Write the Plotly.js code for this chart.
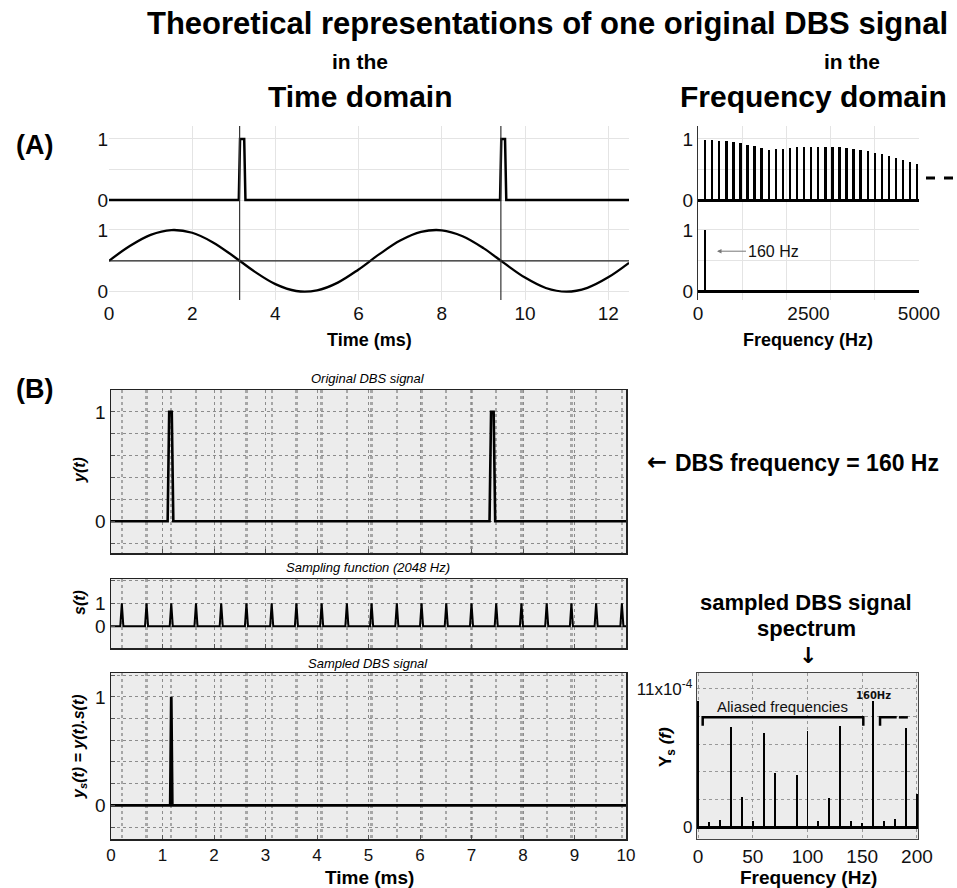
<!DOCTYPE html>
<html>
<head>
<meta charset="utf-8">
<script src="https://cdn.plot.ly/plotly-3.0.1.min.js"></script>
<style>
  html, body { margin: 0; padding: 0; background: #ffffff; }
  #chart { width: 957px; height: 888px; }
</style>
</head>
<body>
<div id="chart"></div>
<script>
// ---------- (A) time domain ----------
// DBS pulse train (two pulses, 160 Hz period)
const pulseTimeA  = [0, 3.12, 3.15, 3.25, 3.28, 9.40, 9.43, 9.52, 9.55, 12.5];
const pulseLevelA = [0, 0, 1, 1, 0, 0, 1, 1, 0, 0];
// equivalent sinusoid at the same frequency
const sineTime  = [0, 0.5, 1, 1.5, 2, 2.5, 3, 3.5, 4, 4.5, 5, 5.5, 6, 6.5, 7, 7.5, 8, 8.5, 9, 9.5, 10, 10.5, 11, 11.5, 12, 12.5];
const sineLevel = [0.5, 0.74, 0.921, 0.999, 0.955, 0.799, 0.571, 0.325, 0.122, 0.011, 0.021, 0.147, 0.36, 0.608, 0.828, 0.969, 0.995, 0.899, 0.706, 0.462, 0.228, 0.06, 0.0, 0.063, 0.232, 0.467];
const meanTime  = [0, 12.5];
const meanLevel = [0.5, 0.5];
const pulseOnsets = [3.14, 9.42];

// ---------- (A) frequency domain ----------
const harmonicHz = [160, 320, 480, 640, 800, 960, 1120, 1280, 1440, 1600, 1760, 1920, 2080, 2240, 2400, 2560,
                    2720, 2880, 3040, 3200, 3360, 3520, 3680, 3840, 4000, 4160, 4320, 4480, 4640, 4800, 4960];
const harmonicAmp = [0.99, 0.98, 0.97, 0.96, 0.95, 0.93, 0.90, 0.88, 0.85, 0.82, 0.83, 0.84, 0.86, 0.865, 0.875, 0.875,
                     0.875, 0.875, 0.87, 0.865, 0.855, 0.84, 0.82, 0.80, 0.77, 0.75, 0.72, 0.69, 0.655, 0.62, 0.595];
const sineLineHz  = [160];
const sineLineAmp = [1];

// ---------- (B) sampling ----------
const origTime  = [0, 1.10, 1.13, 1.18, 1.21, 7.35, 7.38, 7.43, 7.46, 10];
const origLevel = [0, 0, 1, 1, 0, 0, 1, 1, 0, 0];
const sampleTimes = [0.21, 0.69, 1.17, 1.65, 2.14, 2.63, 3.12, 3.60, 4.09, 4.58, 5.06,
                     5.55, 6.03, 6.51, 7.00, 7.48, 7.97, 8.46, 8.94, 9.42, 9.92];
const sampledTime  = [0, 1.15, 1.17, 1.19, 10];
const sampledLevel = [0, 0, 1, 0, 0];

// spectrum of the sampled signal (0-200 Hz)
const specHz  = [0, 10, 20, 30, 40, 50, 60, 70, 90, 100, 110, 120, 130, 140, 150, 160, 170, 180, 190, 200];
const specAmp = [10.05e-4, 0.45e-4, 0.58e-4, 7.96e-4, 2.44e-4, 0.53e-4, 7.48e-4, 4.30e-4, 4.16e-4, 7.61e-4,
                 0.53e-4, 2.31e-4, 8.06e-4, 0.53e-4, 0.34e-4, 10.05e-4, 0.53e-4, 0.64e-4, 7.88e-4, 2.65e-4];
const specTickVals = [0, 11e-4];
const specTickText = ['0', '11x10<sup>-4</sup>'];

// ---------- helpers ----------
const W = 957, H = 888;
const PX = p => p / W;
const PY = p => 1 - p / H;
const FONT = 'Liberation Sans, Arial, Helvetica, sans-serif';
const ARROW_FONT = 'DejaVu Sans, sans-serif';

// narrow spikes of the sampling comb
const spikeX = [0], spikeY = [0];
sampleTimes.forEach(t => { spikeX.push(t - 0.03, t, t + 0.03); spikeY.push(0, 1, 0); });
spikeX.push(10); spikeY.push(0);

const black = '#000000';
const traces = [
  { x: pulseTimeA, y: pulseLevelA, xaxis: 'x2', yaxis: 'y2', mode: 'lines', line: { color: black, width: 2.5 } },
  { x: sineTime, y: sineLevel, xaxis: 'x', yaxis: 'y', mode: 'lines', line: { color: black, width: 2.3, shape: 'spline' } },
  { x: meanTime, y: meanLevel, xaxis: 'x', yaxis: 'y', mode: 'lines', line: { color: '#222', width: 1.3 } },
  { type: 'bar', x: harmonicHz, y: harmonicAmp, width: 55, xaxis: 'x4', yaxis: 'y4', marker: { color: black } },
  { type: 'bar', x: sineLineHz, y: sineLineAmp, width: 55, xaxis: 'x3', yaxis: 'y3', marker: { color: black } },
  { x: origTime, y: origLevel, xaxis: 'x5', yaxis: 'y5', mode: 'lines', line: { color: black, width: 2.6 } },
  { x: spikeX, y: spikeY, xaxis: 'x6', yaxis: 'y6', mode: 'lines', line: { color: black, width: 2 } },
  { x: sampledTime, y: sampledLevel, xaxis: 'x7', yaxis: 'y7', mode: 'lines', line: { color: black, width: 2.8 } },
  { type: 'bar', x: specHz, y: specAmp, width: 1.8, xaxis: 'x8', yaxis: 'y8', marker: { color: black } }
];

// ---- axis styles ----
const lightGrid = '#e4e4e4';
const dotGrid = '#8c8c8c';
const aTimeX = {
  range: [0, 12.5], tickvals: [0, 2, 4, 6, 8, 10, 12], showgrid: true, gridcolor: lightGrid,
  zeroline: false, showline: false, ticks: '', tickfont: { size: 19, color: '#111' }
};
const aFreqX = {
  range: [0, 5000], tickvals: [0, 2500, 5000], showgrid: false, zeroline: false, showline: false,
  minor: { tickmode: 'linear', tick0: 0, dtick: 1000, showgrid: true, gridcolor: lightGrid, ticks: '' },
  ticks: '', tickfont: { size: 19, color: '#111' }
};
const aY = (dom, rng, line) => ({
  domain: dom, range: rng, tickvals: [0, 1],
  showgrid: true, gridcolor: lightGrid, ticks: '', tickfont: { size: 19, color: '#111' },
  minor: { tickmode: 'linear', tick0: 0, dtick: 0.5, showgrid: true, gridcolor: lightGrid, ticks: '' },
  zeroline: !!line, zerolinecolor: black, zerolinewidth: 3,
  showline: !!line, linecolor: '#333', linewidth: 1
});
const bX = (labels) => ({
  domain: [PX(111), PX(626)], range: [0, 10], tickvals: [0, 1, 2, 3, 4, 5, 6, 7, 8, 9, 10],
  showticklabels: labels, tickfont: { size: 17, color: '#111' },
  showgrid: true, gridcolor: dotGrid, griddash: 'dot', gridwidth: 1,
  minor: { tickmode: 'array', tickvals: sampleTimes, showgrid: true, gridcolor: '#a6a6a6', gridwidth: 2.3, ticks: '' },
  showline: true, mirror: true, linecolor: '#222', linewidth: 1.5,
  ticks: 'inside', ticklen: 4, tickcolor: '#555', zeroline: false
});
const bY = (dom, rng, vals, step) => ({
  domain: dom, range: rng, tickvals: vals,
  showgrid: true, gridcolor: dotGrid, griddash: 'dot', gridwidth: 1,
  minor: { tickmode: 'linear', tick0: 0, dtick: step, showgrid: true, gridcolor: dotGrid, griddash: 'dot',
           gridwidth: 1, ticks: 'inside', ticklen: 4, tickcolor: '#555' },
  showline: true, mirror: true, linecolor: '#222', linewidth: 1.5,
  ticks: 'inside', ticklen: 4, tickcolor: '#555', zeroline: false,
  tickfont: { size: 19, color: '#111' }
});

const ann = (text, x, y, size, extra) => Object.assign({
  text: text, x: PX(x), y: PY(y), xref: 'paper', yref: 'paper', showarrow: false,
  xanchor: 'center', yanchor: 'middle', font: { family: FONT, size: size, color: '#000' }
}, extra || {});

const annotations = [
  ann('<b>Theoretical representations of one original DBS signal</b>', 547, 23, 31),
  ann('<b>in the</b>', 360, 62, 21),
  ann('<b>Time domain</b>', 360, 96, 30),
  ann('<b>in the</b>', 852, 62, 21),
  ann('<b>Frequency domain</b>', 813, 96, 30),
  ann('<b>(A)</b>', 34, 145, 27),
  ann('<b>(B)</b>', 34, 389, 27),
  ann('<b>Time (ms)</b>', 369, 340, 18),
  ann('<b>Frequency (Hz)</b>', 808, 340, 18),
  // (A) frequency-domain pointer
  { text: '160 Hz', x: 430, y: 0.656, xref: 'x3', yref: 'y3', showarrow: true, ax: 56, ay: 0,
    arrowhead: 2, arrowsize: 0.9, arrowwidth: 1, arrowcolor: '#777', standoff: 0,
    font: { family: FONT, size: 16, color: '#111' } },
  // (B)
  ann('<i>Original DBS signal</i>', 368, 378, 13),
  ann('<i>Sampling function (2048 Hz)</i>', 368, 567, 13),
  ann('<i>Sampled DBS signal</i>', 368, 663, 13),
  ann('<b><i>y(t)</i></b>', 79, 470, 16, { textangle: -90 }),
  ann('<b><i>s(t)</i></b>', 79, 603, 16, { textangle: -90 }),
  ann('<b><i>y<sub>s</sub>(t) = y(t).s(t)</i></b>', 79, 747, 16, { textangle: -90 }),
  ann('<b>Time (ms)</b>', 369, 877, 19),
  ann('<b>\u2190</b>', 657, 462, 24, { font: { family: ARROW_FONT, size: 24, color: '#000' } }),
  ann('<b>DBS frequency = 160 Hz</b>', 807, 463, 23),
  ann('<b>sampled DBS signal</b>', 806, 602, 22),
  ann('<b>spectrum</b>', 806, 628, 22),
  ann('<b>\u2193</b>', 808, 655, 22, { font: { family: ARROW_FONT, size: 22, color: '#000' } }),
  ann('<b>Y<sub>s</sub> <i>(f)</i></b>', 667, 747, 17, { textangle: -90 }),
  ann('<b>Frequency (Hz)</b>', 808, 877, 19),
  { text: 'Aliased frequencies', x: 77, y: 9.6e-4, xref: 'x8', yref: 'y8', showarrow: false,
    font: { family: FONT, size: 15, color: '#111' } },
  { text: '<b>160Hz</b>', x: 160, y: 10.45e-4, xref: 'x8', yref: 'y8', showarrow: false,
    font: { family: 'DejaVu Sans, sans-serif', size: 10, color: '#111' } }
];

const shapes = [];
// light grey background of the (B) panels
['x5', 'x6', 'x7', 'x8'].forEach((xa, i) => {
  const ya = 'y' + (5 + i);
  shapes.push({ type: 'rect', xref: xa + ' domain', yref: ya + ' domain', x0: 0, x1: 1, y0: 0, y1: 1,
                fillcolor: '#ececec', line: { width: 0 }, layer: 'below' });
});
// pulse onset markers across both (A) time plots
pulseOnsets.forEach(t => {
  shapes.push({ type: 'line', xref: 'x', yref: 'paper', x0: t, x1: t, y0: PY(300), y1: PY(126),
                line: { color: '#333', width: 1.2 } });
});
// continuation of the harmonic comb
shapes.push({ type: 'line', xref: 'paper', yref: 'paper', x0: PX(926), x1: PX(957), y0: PY(178), y1: PY(178),
              line: { color: black, width: 3, dash: 'dash' } });
// brackets in the sampled spectrum
shapes.push({ type: 'path', xref: 'x8', yref: 'y8',
              path: 'M 4.2,8.06e-4 L 4.2,8.73e-4 L 151,8.73e-4 L 151,8.06e-4',
              line: { color: black, width: 2.5 } });
shapes.push({ type: 'path', xref: 'x8', yref: 'y8',
              path: 'M 166.3,8.06e-4 L 166.3,8.73e-4 L 181.5,8.73e-4',
              line: { color: black, width: 2.5 } });
shapes.push({ type: 'line', xref: 'x8', yref: 'y8', x0: 183.5, x1: 198.3, y0: 8.73e-4, y1: 8.73e-4,
              line: { color: black, width: 2.5, dash: 'dash' } });

const layout = {
  width: W, height: H, margin: { l: 0, r: 0, t: 0, b: 0 },
  paper_bgcolor: '#ffffff', plot_bgcolor: 'rgba(0,0,0,0)',
  showlegend: false, font: { family: FONT, color: '#111' },
  bargap: 0,
  xaxis:  Object.assign({ domain: [PX(109), PX(629)], anchor: 'y' }, aTimeX),
  xaxis2: Object.assign({ domain: [PX(109), PX(629)], anchor: 'y2', matches: 'x' }, aTimeX,
                        { showticklabels: false }),
  yaxis:  aY([PY(300), PY(205)], [-0.135, 1.405], false),
  yaxis2: aY([PY(205), PY(126)], [-0.082, 1.213], false),
  xaxis3: Object.assign({ domain: [PX(698), PX(919)], anchor: 'y3' }, aFreqX),
  xaxis4: Object.assign({ domain: [PX(698), PX(919)], anchor: 'y4', matches: 'x3' }, aFreqX,
                        { showticklabels: false }),
  yaxis3: aY([PY(300), PY(205)], [-0.135, 1.405], true),
  yaxis4: aY([PY(205), PY(126)], [-0.082, 1.213], true),
  xaxis5: Object.assign(bX(false), { anchor: 'y5' }),
  xaxis6: Object.assign(bX(false), { anchor: 'y6' }),
  xaxis7: Object.assign(bX(true), { anchor: 'y7' }),
  yaxis5: bY([PY(553), PY(390)], [-0.29, 1.2], [0, 1], 0.2),
  yaxis6: bY([PY(648), PY(579)], [-0.95, 2.06], [0, 1], 1),
  yaxis7: bY([PY(839), PY(673)], [-0.31, 1.22], [0, 1], 0.2),
  xaxis8: {
    domain: [PX(697), PX(918)], anchor: 'y8', range: [-1, 201], tickvals: [0, 50, 100, 150, 200],
    showgrid: true, gridcolor: '#999', griddash: 'dot', zeroline: false,
    showline: true, mirror: true, linecolor: '#444', linewidth: 1.2, ticks: '',
    tickfont: { size: 19, color: '#111' }
  },
  yaxis8: {
    domain: [PY(839), PY(673)], anchor: 'x8', range: [-0.93e-4, 12.25e-4],
    tickvals: specTickVals, ticktext: specTickText,
    showgrid: true, gridcolor: '#999', griddash: 'dot',
    minor: { tickmode: 'linear', tick0: 0, dtick: 2.2e-4, showgrid: true, gridcolor: '#999', griddash: 'dot', ticks: '' },
    zeroline: true, zerolinecolor: black, zerolinewidth: 2.5,
    showline: true, mirror: true, linecolor: '#444', linewidth: 1.2, ticks: '',
    tickfont: { size: 17, color: '#111' }
  },
  annotations: annotations,
  shapes: shapes
};
layout.yaxis.anchor = 'x';
layout.yaxis2.anchor = 'x2';
layout.yaxis3.anchor = 'x3';
layout.yaxis4.anchor = 'x4';
layout.yaxis5.anchor = 'x5';
layout.yaxis6.anchor = 'x6';
layout.yaxis7.anchor = 'x7';

Plotly.newPlot('chart', traces, layout, { displayModeBar: false, staticPlot: true });
</script>
</body>
</html>
